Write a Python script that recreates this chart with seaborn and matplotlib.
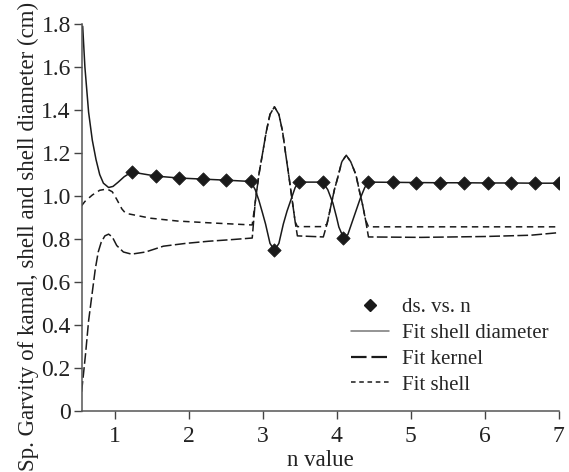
import matplotlib
matplotlib.use("Agg")
import matplotlib.pyplot as plt
import seaborn as sns
from matplotlib.lines import Line2D

# measured points (ds. vs. n)
pts_n = [1.23, 1.56, 1.87, 2.19, 2.51, 2.84, 3.16, 3.49, 3.81, 4.09, 4.43,
         4.76, 5.07, 5.39, 5.72, 6.04, 6.36, 6.68, 7.00]
pts_v = [1.112, 1.093, 1.084, 1.079, 1.074, 1.068, 0.748, 1.065, 1.065, 0.806, 1.065,
         1.064, 1.063, 1.062, 1.062, 1.061, 1.061, 1.060, 1.060]

# fit shell diameter
dia_n = [0.57, 0.60, 0.65, 0.70, 0.75, 0.80, 0.85, 0.92, 0.98, 1.05, 1.13, 1.23,
         1.56, 1.87, 2.19, 2.51, 2.84, 2.90, 2.95, 3.00, 3.04, 3.10, 3.16, 3.22,
         3.28, 3.33, 3.38, 3.44, 3.49, 3.81, 3.88, 3.95, 4.00, 4.03, 4.09, 4.15,
         4.19, 4.26, 4.32, 4.38, 4.43, 4.76, 5.07, 5.39, 5.72, 6.04, 6.36, 6.68, 7.00]
dia_v = [1.79, 1.60, 1.39, 1.26, 1.17, 1.10, 1.06, 1.04, 1.045, 1.065, 1.09, 1.112,
         1.093, 1.084, 1.079, 1.074, 1.068, 1.03, 0.98, 0.92, 0.87, 0.78, 0.748, 0.78,
         0.87, 0.93, 0.98, 1.04, 1.065, 1.065, 1.03, 0.967, 0.90, 0.856, 0.808, 0.82,
         0.86, 0.93, 0.99, 1.04, 1.065, 1.064, 1.063, 1.062, 1.062, 1.061, 1.061, 1.060, 1.060]

# fit kernel
ker_n = [0.555, 0.58, 0.61, 0.65, 0.68, 0.74, 0.78, 0.82, 0.87, 0.92, 0.97, 1.03,
         1.12, 1.23, 1.42, 1.66, 1.96, 2.27, 2.60, 2.86, 2.90, 2.95, 3.00, 3.05,
         3.10, 3.16, 3.22, 3.27, 3.31, 3.36, 3.40, 3.44, 3.47, 3.82, 3.87, 3.92,
         3.97, 4.01, 4.07, 4.13, 4.19, 4.26, 4.31, 4.35, 4.39, 4.43, 5.14, 6.00,
         6.62, 7.00]
ker_v = [0.09, 0.17, 0.27, 0.42, 0.50, 0.66, 0.74, 0.785, 0.815, 0.823, 0.81, 0.77,
         0.74, 0.73, 0.74, 0.767, 0.78, 0.79, 0.798, 0.805, 0.97, 1.10, 1.20, 1.30,
         1.38, 1.415, 1.38, 1.30, 1.20, 1.08, 0.98, 0.88, 0.815, 0.81, 0.87, 0.95,
         1.03, 1.08, 1.16, 1.19, 1.16, 1.10, 1.02, 0.96, 0.89, 0.81, 0.808, 0.812,
         0.818, 0.83]

# fit shell
shl_n = [0.555, 0.60, 0.70, 0.80, 0.90, 0.97, 1.03, 1.10, 1.15, 1.49, 1.85, 2.26,
         2.84, 2.86, 2.90, 2.95, 3.00, 3.05, 3.10, 3.16, 3.22, 3.27, 3.31, 3.36,
         3.40, 3.44, 3.47, 3.82, 3.87, 3.92, 3.97, 4.01, 4.07, 4.13, 4.19, 4.26,
         4.31, 4.35, 4.39, 4.43, 7.00]
shl_v = [0.955, 0.975, 1.005, 1.027, 1.033, 1.02, 0.985, 0.94, 0.92, 0.897, 0.884, 0.876,
         0.866, 0.866, 0.97, 1.10, 1.20, 1.30, 1.38, 1.415, 1.38, 1.30, 1.20, 1.08,
         0.98, 0.88, 0.858, 0.858, 0.87, 0.95, 1.03, 1.08, 1.16, 1.19, 1.16, 1.10,
         1.02, 0.96, 0.89, 0.857, 0.857]

sns.set_style("ticks")
plt.rcParams['font.family'] = ['Liberation Serif', 'DejaVu Serif']
plt.rcParams['font.size'] = 15

ink = '#1a1a1a'
fig = plt.figure(figsize=(5.69, 4.72), dpi=100)
ax = fig.add_axes([0.144, 0.129, 0.838, 0.82])

sns.lineplot(x=dia_n, y=dia_v, ax=ax, color=ink, lw=1.1, estimator=None, sort=False)
sns.lineplot(x=ker_n, y=ker_v, ax=ax, color=ink, lw=1.1, estimator=None, sort=False,
             dashes=False, linestyle=(0, (7, 2.2)))
sns.lineplot(x=shl_n, y=shl_v, ax=ax, color=ink, lw=1.1, estimator=None, sort=False,
             linestyle=(0, (4.2, 3.0)))
sns.scatterplot(x=pts_n, y=pts_v, ax=ax, marker='D', s=46, color=ink,
                edgecolor=ink, zorder=5)

ax.set_xlim(0.56, 7.0)
ax.set_ylim(0, 1.8)
ax.set_xticks([1, 2, 3, 4, 5, 6, 7])
ax.set_yticks([0, 0.2, 0.4, 0.6, 0.8, 1.0, 1.2, 1.4, 1.6, 1.8])
ax.set_yticklabels(['0', '0.2', '0.4', '0.6', '0.8', '1.0', '1.2', '1.4', '1.6', '1.8'])
ax.tick_params(direction='out', length=6, width=1, color='#444444', labelsize=17,
               labelcolor='#222222', pad=2)
ax.tick_params(axis='x', pad=5)
for s in ['left', 'bottom']:
    ax.spines[s].set_color('#555555')
    ax.spines[s].set_linewidth(1.1)
sns.despine(ax=ax)

ax.set_xlabel('n value', fontsize=16.5, color='#222222', labelpad=2)
ax.set_ylabel('Sp. Garvity of kamal, shell and shell diameter (cm)', fontsize=16.5,
              color='#222222')
ax.yaxis.set_label_coords(-0.09, 0.452)

handles = [
    Line2D([], [], marker='D', color=ink, linestyle='none', markersize=6),
    Line2D([], [], color='#777777', lw=1.1),
    Line2D([], [], color=ink, lw=1.6, linestyle=(0, (7, 2.2))),
    Line2D([], [], color=ink, lw=1.1, linestyle=(0, (3.0, 2.4))),
]
labels = ['ds. vs. n', 'Fit shell diameter', 'Fit kernel', 'Fit shell']
ax.legend(handles, labels, loc='upper left', bbox_to_anchor=(0.543, 0.32),
          frameon=False, fontsize=15, handlelength=1.8, handletextpad=0.62,
          labelspacing=0.3, borderpad=0)

fig.savefig('out.png', dpi=100)
